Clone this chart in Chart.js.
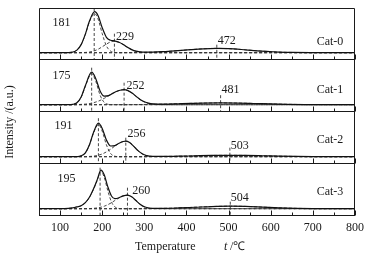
<!DOCTYPE html>
<html>
  <head>
    <script src="https://cdn.jsdelivr.net/npm/chart.js@4.4.0/dist/chart.umd.min.js"></script>
    <style type="text/css">
      html, body { margin: 0; padding: 0; background: #ffffff; }
      canvas { display: block; }
    </style>
  </head>
  <body>
    <canvas id="canvas" width="368" height="259"></canvas>

    <script type="text/javascript">
      // values, intensity in arbitrary units
      var panelNames = ["Cat-0", "Cat-1", "Cat-2", "Cat-3"];

      var temps0 = [50, 100, 120, 130, 140, 150, 160, 170, 182, 190, 200, 210, 220, 229, 240, 250, 260, 270, 280, 290, 300, 320, 350, 380, 410, 440, 472, 500, 530, 560, 590, 620, 650, 700, 750, 800];
      var total0 = [0, 0, 0.1, 0.6, 2.6, 8.1, 18.6, 31.9, 41.0, 37.3, 25.0, 15.4, 12.4, 11.8, 10.4, 8.15, 5.4, 3.1, 1.55, 0.85, 0.5, 0.55, 1.15, 2.0, 3.05, 3.9, 4.3, 4.0, 3.2, 2.15, 1.25, 0.6, 0.25, 0.05, 0, 0];
      var fitA0 = [0, 0, 0.1, 0.6, 2.6, 8.0, 18.3, 31.2, 39, 33.9, 19.1, 6.8, 1.6, 0.3, 0, 0, 0, 0, 0, 0, 0, 0, 0, 0, 0, 0, 0, 0, 0, 0, 0, 0, 0, 0, 0, 0];
      var fitB0 = [0, 0, 0, 0, 0, 0.1, 0.25, 0.7, 2.0, 3.4, 5.9, 8.6, 10.8, 11.5, 10.4, 8.1, 5.3, 3.0, 1.4, 0.6, 0.2, 0, 0, 0, 0, 0, 0, 0, 0, 0, 0, 0, 0, 0, 0, 0];
      var fitC0 = [0, 0, 0, 0, 0, 0, 0, 0, 0, 0, 0, 0, 0, 0, 0, 0.05, 0.08, 0.1, 0.16, 0.23, 0.31, 0.55, 1.15, 2.0, 3.06, 3.9, 4.3, 4.0, 3.2, 2.15, 1.25, 0.6, 0.26, 0.04, 0, 0];

      var temps1 = [50, 100, 120, 130, 140, 150, 160, 175, 185, 195, 205, 215, 225, 235, 245, 252, 260, 270, 280, 290, 300, 310, 320, 350, 380, 410, 440, 481, 520, 560, 600, 640, 680, 720, 760, 800];
      var total1 = [0, 0, 0, 0.3, 1.9, 7.6, 19.0, 32.5, 25.8, 13.8, 8.6, 9.1, 11.3, 13.4, 14.7, 15.0, 14.3, 11.9, 8.55, 5.3, 2.95, 1.5, 0.85, 0.62, 0.96, 1.3, 1.6, 1.8, 1.64, 1.22, 0.75, 0.38, 0.16, 0.05, 0, 0];
      var fitA1 = [0, 0, 0, 0.3, 1.8, 7.3, 18.4, 31, 23.1, 9.5, 2.2, 0.3, 0, 0, 0, 0, 0, 0, 0, 0, 0, 0, 0, 0, 0, 0, 0, 0, 0, 0, 0, 0, 0, 0, 0, 0];
      var fitB1 = [0, 0, 0, 0, 0.1, 0.3, 0.6, 1.5, 2.7, 4.3, 6.4, 8.8, 11.3, 13.4, 14.7, 15, 14.3, 11.8, 8.4, 5.1, 2.7, 1.2, 0.5, 0, 0, 0, 0, 0, 0, 0, 0, 0, 0, 0, 0, 0];
      var fitC1 = [0, 0, 0, 0, 0, 0, 0, 0, 0, 0, 0, 0, 0, 0, 0, 0, 0, 0.1, 0.15, 0.2, 0.24, 0.3, 0.36, 0.62, 0.96, 1.3, 1.6, 1.8, 1.64, 1.22, 0.75, 0.38, 0.16, 0.05, 0, 0];

      var temps2 = [50, 100, 120, 130, 140, 150, 160, 170, 180, 191, 200, 210, 220, 230, 240, 250, 256, 265, 275, 285, 295, 305, 320, 350, 380, 420, 460, 503, 540, 580, 620, 660, 700, 750, 800];
      var total2 = [0, 0, 0, 0, 0.1, 0.8, 3.9, 12.25, 25.0, 33.5, 28.3, 16.7, 10.7, 11.1, 13.45, 15.2, 15.5, 14.1, 10.3, 6.05, 2.9, 1.1, 0.3, 0.28, 0.49, 0.87, 1.23, 1.4, 1.27, 0.93, 0.54, 0.25, 0.1, 0.02, 0];
      var fitA2 = [0, 0, 0, 0, 0.1, 0.8, 3.8, 12.0, 24.4, 32, 25.6, 11.9, 3.2, 0.5, 0, 0, 0, 0, 0, 0, 0, 0, 0, 0, 0, 0, 0, 0, 0, 0, 0, 0, 0, 0, 0];
      var fitB2 = [0, 0, 0, 0, 0, 0, 0, 0.25, 0.6, 1.5, 2.7, 4.8, 7.5, 10.6, 13.4, 15.2, 15.5, 14.1, 10.3, 6.0, 2.8, 1.0, 0.15, 0, 0, 0, 0, 0, 0, 0, 0, 0, 0, 0, 0];
      var fitC2 = [0, 0, 0, 0, 0, 0, 0, 0, 0, 0, 0, 0, 0, 0, 0, 0, 0, 0, 0, 0, 0, 0.09, 0.14, 0.28, 0.49, 0.87, 1.23, 1.4, 1.27, 0.93, 0.54, 0.25, 0.1, 0.02, 0];

      var temps3 = [50, 100, 120, 130, 140, 150, 160, 170, 180, 188, 197, 205, 213, 222, 230, 240, 250, 260, 270, 280, 290, 300, 320, 350, 380, 420, 460, 504, 540, 580, 620, 660, 700, 750, 800];
      var total3 = [0, 0, 0.3, 0.8, 1.8, 3.0, 6.05, 11.65, 20.4, 28.8, 38.5, 33.6, 22.35, 12.7, 10.1, 11.0, 12.8, 13.5, 11.9, 8.2, 4.47, 1.9, 0.33, 0.39, 0.75, 1.44, 2.15, 2.5, 2.26, 1.59, 0.87, 0.37, 0.12, 0.02, 0];
      var fitA3 = [0, 0, 0.3, 0.8, 1.8, 3.0, 6.0, 11.5, 20.0, 28.0, 37, 31.1, 18.4, 6.7, 1.9, 0.2, 0, 0, 0, 0, 0, 0, 0, 0, 0, 0, 0, 0, 0, 0, 0, 0, 0, 0, 0];
      var fitB3 = [0, 0, 0, 0, 0, 0, 0.05, 0.15, 0.4, 0.76, 1.5, 2.5, 3.95, 6.0, 8.2, 10.8, 12.8, 13.5, 11.9, 8.2, 4.4, 1.8, 0.15, 0, 0, 0, 0, 0, 0, 0, 0, 0, 0, 0, 0];
      var fitC3 = [0, 0, 0, 0, 0, 0, 0, 0, 0, 0, 0, 0, 0, 0, 0, 0, 0, 0, 0, 0, 0.07, 0.1, 0.18, 0.39, 0.75, 1.44, 2.15, 2.5, 2.26, 1.59, 0.87, 0.37, 0.12, 0.02, 0];

      // fitted peak positions (labels) and how high their dashed markers reach
      var peaks0 = [181, 229, 472];
      var peaks1 = [175, 252, 481];
      var peaks2 = [191, 256, 503];
      var peaks3 = [195, 260, 504];
      var markerTops0 = [44.7, 19, 8];
      var markerTops1 = [37, 22, 9.5];
      var markerTops2 = [38.5, 19, 9];
      var markerTops3 = [41, 21, 7];

      var xTicks = [100, 200, 300, 400, 500, 600, 700, 800];
      var xMinorTicks = [150, 250, 350, 450, 550, 650, 750];

      var yMin = -7.3, yMax = 44.7;

      var panels = [
        { name: panelNames[0], temps: temps0, total: total0, fits: [fitA0, fitB0, fitC0], peaks: peaks0, tops: markerTops0,
          labelAt: [[82, 30], [233, 16], [474, 11.7]], nameAt: [709, 11] },
        { name: panelNames[1], temps: temps1, total: total1, fits: [fitA1, fitB1, fitC1], peaks: peaks1, tops: markerTops1,
          labelAt: [[82, 28.7], [257.5, 18.7], [483, 14.7]], nameAt: [709, 14.7] },
        { name: panelNames[2], temps: temps2, total: total2, fits: [fitA2, fitB2, fitC2], peaks: peaks2, tops: markerTops2,
          labelAt: [[87, 30.7], [260, 22.7], [505, 10.7]], nameAt: [709, 16.7] },
        { name: panelNames[3], temps: temps3, total: total3, fits: [fitA3, fitB3, fitC3], peaks: peaks3, tops: markerTops3,
          labelAt: [[94, 29.7], [271.5, 18.2], [505, 11]], nameAt: [709, 17] }
      ];

      var serif = "'Liberation Serif', 'Times New Roman', serif";
      var ink = "#1a1a1a";

      var toPoints = function(temps, vals) {
        return temps.map(function(t, k) { return { x: t, y: vals[k] }; });
      };

      var datasets = [];
      var scales = {
        x: { type: "linear", min: 50, max: 800, display: false }
      };

      panels.forEach(function(p, i) {
        var axis = "y" + i;
        datasets.push({
          data: toPoints(p.temps, p.total), yAxisID: axis,
          borderColor: "#111111", borderWidth: 1.2, cubicInterpolationMode: "monotone"
        });
        p.fits.forEach(function(vals) {
          datasets.push({
            data: toPoints(p.temps, vals), yAxisID: axis,
            borderColor: "#333333", borderWidth: 0.9, borderDash: [3, 2], cubicInterpolationMode: "monotone"
          });
        });
        datasets.push({
          data: [{ x: 50, y: 0 }, { x: 800, y: 0 }], yAxisID: axis,
          borderColor: "#333333", borderWidth: 0.9, borderDash: [3, 2]
        });
        p.peaks.forEach(function(t, k) {
          datasets.push({
            data: [{ x: t, y: p.tops[k] }, { x: t, y: yMin }], yAxisID: axis,
            borderColor: "#333333", borderWidth: 0.9, borderDash: [3, 2]
          });
        });
      });

      // stacked panels, the last one defined ends up on top
      for (var i = panels.length - 1; i >= 0; i--) {
        scales["y" + i] = { type: "linear", min: yMin, max: yMax, display: false, stack: "panels", stackWeight: 1 };
      }

      var framePlugin = {
        id: "frame",
        afterDatasetsDraw: function(chart) {
          var ctx = chart.ctx, xs = chart.scales.x, area = chart.chartArea;
          ctx.save();
          ctx.strokeStyle = ink;
          ctx.fillStyle = ink;
          ctx.lineWidth = 1;

          // outer box
          ctx.beginPath();
          ctx.moveTo(Math.round(area.left) + 0.5, Math.round(area.bottom));
          ctx.lineTo(Math.round(area.left) + 0.5, Math.round(area.top) + 0.5);
          ctx.lineTo(Math.round(area.right) - 0.5, Math.round(area.top) + 0.5);
          ctx.lineTo(Math.round(area.right) - 0.5, Math.round(area.bottom));
          ctx.stroke();

          panels.forEach(function(p, i) {
            var ys = chart.scales["y" + i];
            var base = Math.round(ys.getPixelForValue(yMin)) - 0.5;

            ctx.lineWidth = 1.2;
            ctx.beginPath();
            ctx.moveTo(area.left, base);
            ctx.lineTo(area.right, base);
            ctx.stroke();

            ctx.lineWidth = 1;
            ctx.beginPath();
            xTicks.forEach(function(t) {
              var px = Math.round(xs.getPixelForValue(t)) + 0.5;
              ctx.moveTo(px, base);
              ctx.lineTo(px, base - 5);
            });
            xMinorTicks.forEach(function(t) {
              var px = Math.round(xs.getPixelForValue(t)) + 0.5;
              ctx.moveTo(px, base);
              ctx.lineTo(px, base - 3);
            });
            ctx.stroke();

            ctx.font = "12px " + serif;
            ctx.textBaseline = "middle";
            ctx.textAlign = "left";
            p.peaks.forEach(function(t, k) {
              var at = p.labelAt[k];
              ctx.fillText(String(t), xs.getPixelForValue(at[0]), ys.getPixelForValue(at[1]));
            });
            ctx.fillText(p.name, xs.getPixelForValue(p.nameAt[0]), ys.getPixelForValue(p.nameAt[1]));
          });

          // bottom tick labels
          ctx.font = "12px " + serif;
          ctx.textAlign = "center";
          ctx.textBaseline = "top";
          xTicks.forEach(function(t) {
            ctx.fillText(String(t), xs.getPixelForValue(t), area.bottom + 6);
          });

          // axis titles
          ctx.textAlign = "left";
          ctx.textBaseline = "middle";
          ctx.fillText("Temperature", 135, 247);
          ctx.font = "italic 12px " + serif;
          ctx.fillText("t", 224, 247);
          ctx.font = "12px " + serif;
          ctx.fillText(" /\u2103", 227, 247);

          ctx.translate(10, 122);
          ctx.rotate(-Math.PI / 2);
          ctx.textAlign = "center";
          ctx.fillText("Intensity /(a.u.)", 0, 0);

          ctx.restore();
        }
      };

      var ctx = document.getElementById("canvas").getContext("2d");
      new Chart(ctx, {
        type: "line",
        data: { datasets: datasets },
        options: {
          responsive: false,
          animation: false,
          devicePixelRatio: 1,
          layout: { padding: { left: 39, right: 13, top: 8, bottom: 43 } },
          elements: { point: { radius: 0 }, line: { fill: false } },
          plugins: { legend: { display: false }, tooltip: { enabled: false } },
          scales: scales
        },
        plugins: [framePlugin]
      });
    </script>
  </body>
</html>
